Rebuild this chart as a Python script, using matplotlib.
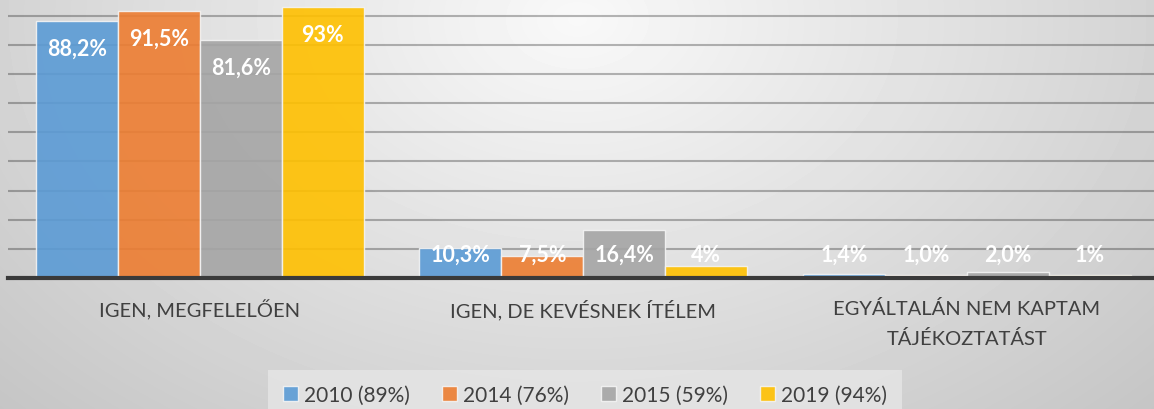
import numpy as np
import matplotlib.pyplot as plt
from matplotlib.patches import Patch

plt.rcParams['font.family'] = ['Lato', 'DejaVu Sans']

# Data
categories = ['IGEN, MEGFELELŐEN', 'IGEN, DE KEVÉSNEK ÍTÉLEM',
              'EGYÁLTALÁN NEM KAPTAM\nTÁJÉKOZTATÁST']
series_names = ['2010 (89%)', '2014 (76%)', '2015 (59%)', '2019 (94%)']
values_2010 = [88.2, 10.3, 1.4]
values_2014 = [91.5, 7.5, 1.0]
values_2015 = [81.6, 16.4, 2.0]
values_2019 = [93, 4, 1]
value_labels = [['88,2%', '10,3%', '1,4%'],
                ['91,5%', '7,5%', '1,0%'],
                ['81,6%', '16,4%', '2,0%'],
                ['93%', '4%', '1%']]
colors = ['#5b9bd5', '#ed7d31', '#a5a5a5', '#ffc000']

all_values = [values_2010, values_2014, values_2015, values_2019]

W, H = 1154, 410
fig = plt.figure(figsize=(W / 100, H / 100), dpi=100)

# radial gray background
bg = fig.add_axes([0, 0, 1, 1], zorder=-10)
yy, xx = np.mgrid[0:H, 0:W]
r = np.sqrt(((xx - 577) / 577.0) ** 2 + ((yy - 20) / 400.0) ** 2)
shade = np.clip(0.975 - 0.145 * r, 0, 1)
bg.imshow(shade, cmap='gray', vmin=0, vmax=1, aspect='auto',
          extent=[0, W, H, 0])
bg.set_axis_off()

ax = fig.add_axes([8 / W, (H - 279) / H, 1146 / W, 279 / H])
ax.patch.set_alpha(0)

x = np.arange(len(categories))
width = 0.2135
for i, vals in enumerate(all_values):
    pos = x + (i - 1.5) * width
    ax.bar(pos, vals, width, color=colors[i], alpha=0.9,
           edgecolor='#f4f4f4', linewidth=1, zorder=3, label=series_names[i])
    for p, v, lab in zip(pos, vals, value_labels[i]):
        ax.text(p, max(v - 9.3, 8.2), lab, ha='center', va='center',
                color='white', fontsize=15.5, fontweight='bold', zorder=5)

ax.set_xlim(-0.5, -0.5 + 1146 / 383.5)
ax.set_ylim(0, 279 / 2.915)
ax.set_yticks(np.arange(10, 91, 10))
ax.yaxis.grid(True, color='black', alpha=0.28, linewidth=1.5, zorder=1)
ax.tick_params(axis='y', left=False, labelleft=False)
ax.set_xticks(x)
ax.set_xticklabels(categories, fontsize=14.5, color='#404040')
for lbl in ax.get_xticklabels():
    lbl.set_linespacing(1.8)
ax.tick_params(axis='x', length=0, pad=15)
for s in ['top', 'right', 'left']:
    ax.spines[s].set_visible(False)
ax.spines['bottom'].set_color('#3a3a3a')
ax.spines['bottom'].set_linewidth(3)
ax.spines['bottom'].set_zorder(6)

handles = [Patch(facecolor=c, edgecolor='#f4f4f4', alpha=0.9) for c in colors]
leg = fig.legend(handles, series_names, loc='lower center',
                 bbox_to_anchor=(0.507, -0.025), ncol=4, fontsize=15,
                 frameon=True, fancybox=False, handlelength=0.7,
                 handleheight=0.7, handletextpad=0.3, columnspacing=1.55,
                 borderpad=0.7, borderaxespad=0)
leg.get_frame().set_facecolor('#e6e6e6')
leg.get_frame().set_edgecolor('none')
leg.get_frame().set_alpha(0.8)
for t in leg.get_texts():
    t.set_color('#404040')

fig.savefig('out.png', dpi=100)
